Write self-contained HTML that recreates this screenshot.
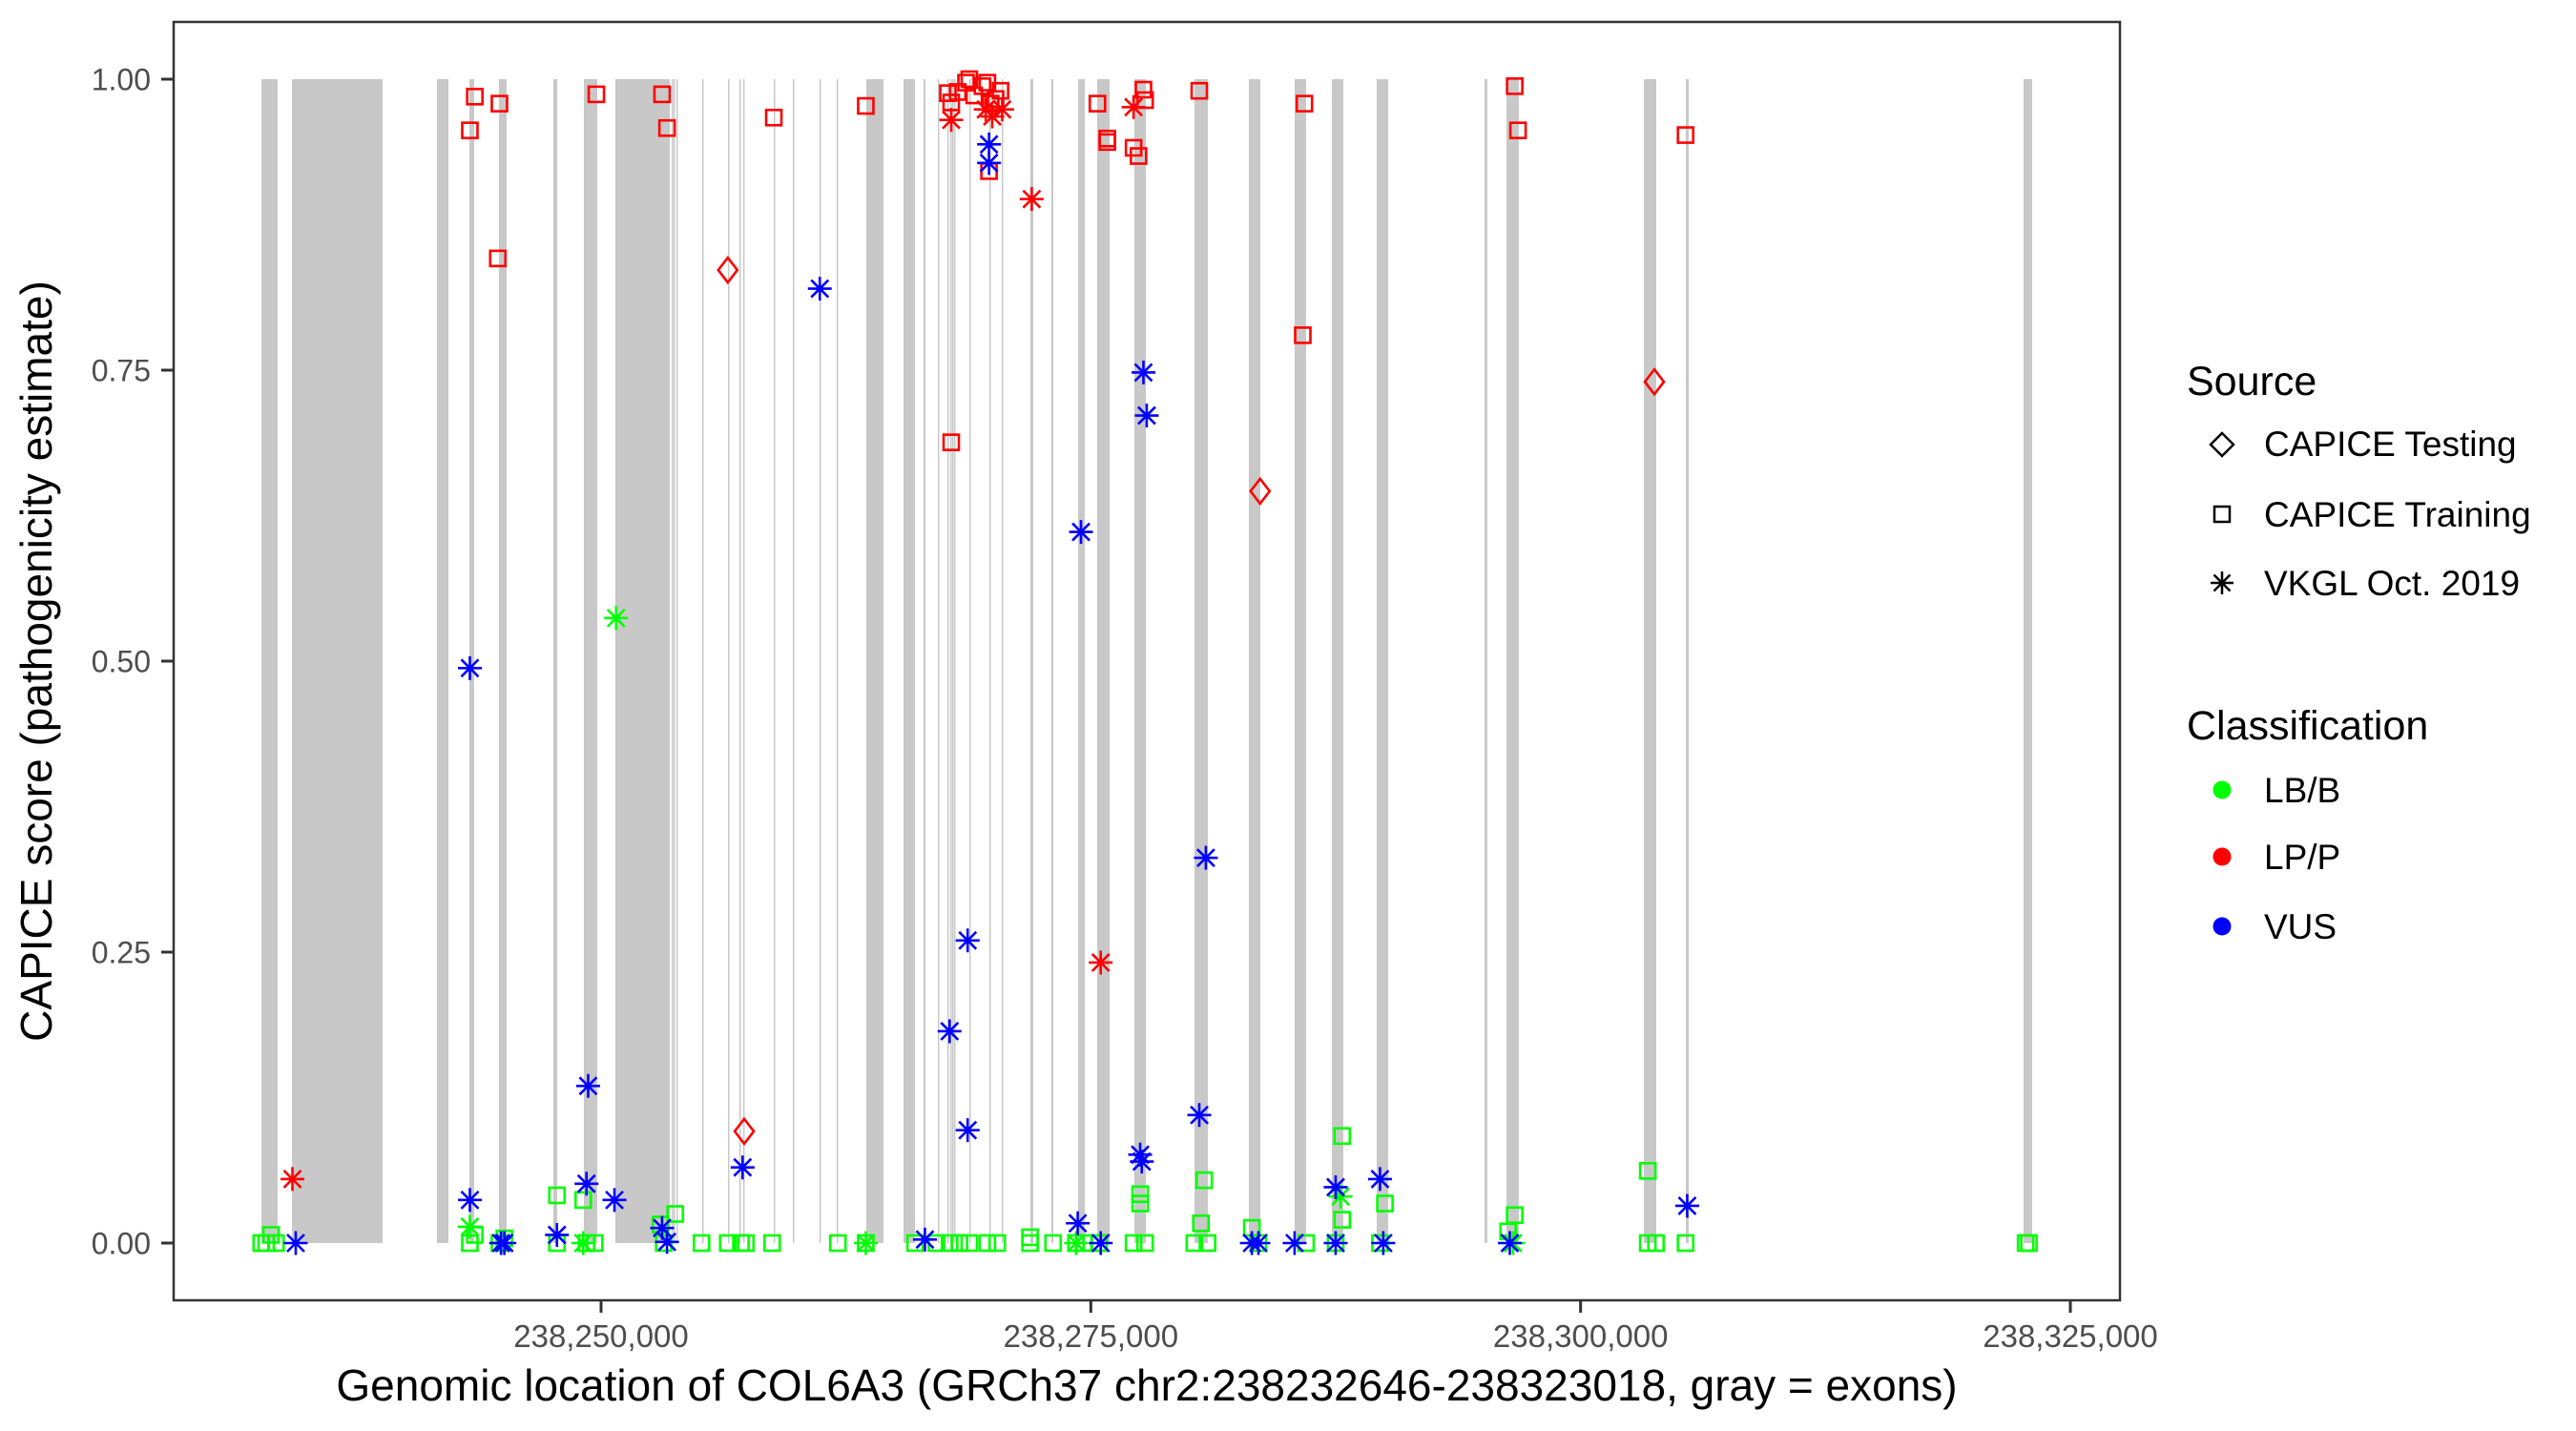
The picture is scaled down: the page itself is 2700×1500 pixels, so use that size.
<!DOCTYPE html>
<html><head><meta charset="utf-8"><style>
html,body{margin:0;padding:0;background:#fff}
svg{display:block}
text{font-family:"Liberation Sans",Arial,sans-serif}
</style></head><body>
<svg id="chart" width="2700" height="1500" viewBox="0 0 2700 1500" xmlns="http://www.w3.org/2000/svg">
<rect x="0" y="0" width="2700" height="1500" fill="#fff"/>
<g id="exons"></g>
<g id="points"></g>
<rect x="182" y="23" width="2040" height="1340" fill="none" stroke="#333" stroke-width="2.5"/>
<g id="yaxis"></g>
<g id="xaxis"></g>
<text x="1202" y="1468" font-size="46" text-anchor="middle" fill="#000">Genomic location of COL6A3 (GRCh37 chr2:238232646-238323018, gray = exons)</text>
<text transform="translate(54,693) rotate(-90)" font-size="46" text-anchor="middle" fill="#000">CAPICE score (pathogenicity estimate)</text>
<g>
<text x="2292" y="414" font-size="43" fill="#000">Source</text>
<g>
<path d="M2329,454 L2341,466 L2329,478 L2317,466 Z" fill="none" stroke="#000" stroke-width="2.5"/>
<text x="2373" y="478" font-size="37" fill="#000">CAPICE Testing</text></g>
<g>
<rect x="2321" y="531" width="16" height="16" fill="none" stroke="#000" stroke-width="2.5"/>
<text x="2373" y="552" font-size="37" fill="#000">CAPICE Training</text></g>
<g>
<path d="M2329,599 V623 M2317,611 H2341 M2320.5,602.5 L2337.5,619.5 M2337.5,602.5 L2320.5,619.5" stroke="#000" stroke-width="2.5"/>
<text x="2373" y="624" font-size="37" fill="#000">VKGL Oct. 2019</text></g>
<text x="2292" y="775" font-size="43" fill="#000">Classification</text>
<g><circle cx="2329" cy="828" r="9.5" fill="#00ff00"/><text x="2373" y="841" font-size="37" fill="#000">LB/B</text></g>
<g><circle cx="2329" cy="898" r="9.5" fill="#ff0000"/><text x="2373" y="911" font-size="37" fill="#000">LP/P</text></g>
<g><circle cx="2329" cy="971" r="9.5" fill="#0000ff"/><text x="2373" y="984" font-size="37" fill="#000">VUS</text></g>
</g>
</svg>
<script>
const exonStart = [238232663,238234221,238241624,238243279,238244789,238247565,238249123,238250731,238253604,238253701,238253847,238255162,238256477,238257062,238257256,238258815,238259789,238261152,238262029,238263539,238265438,238266461,238267191,238267678,238267824,238267922,238268019,238268798,238269821,238270454,238271915,238272986,238274350,238275324,238277223,238280291,238283067,238285405,238287304,238289593,238295096,238296216,238303229,238305372,238322612];
const exonEnd = [238233491,238238848,238242208,238243523,238245179,238247760,238249805,238253506,238253640,238253737,238253883,238255198,238256513,238257098,238257292,238258851,238259825,238261188,238262065,238264415,238266022,238266558,238267227,238267714,238267860,238267958,238268055,238268834,238269857,238270490,238272061,238273084,238274691,238275957,238277808,238280973,238283652,238285989,238287889,238290178,238295242,238296849,238303862,238305518,238323050];
const xTicks = [238250000,238275000,238300000,238325000];
const xTickLabels = ["238,250,000","238,275,000","238,300,000","238,325,000"];
const yTicks = [0,0.25,0.5,0.75,1];
const yTickLabels = ["0.00","0.25","0.50","0.75","1.00"];
const pointPos = [
238232653,238232904,238233156,238233407,238243303,238243555,238244812,238245064,238247748,238247748,238249089,238249257,238249676,238253031,238253198,238253785,238255127,238256469,238257140,238257391,238258733,238262088,238263513,238266029,238267119,238267790,238268293,238268796,238269719,238270222,238271899,238271899,238273073,238274247,238274667,238275421,238277182,238277518,238277518,238277769,238280788,238280621,238280285,238280956,238283220,238283556,238285988,238287497,238287833,238287833,238290013,238289761,238296302,238296638,238303431,238303431,238303850,238305359,238322718,238322886,
238243303,238250767,238249089,238263513,238274247,238287749,238296554,
238243303,238243555,238244812,238249760,238253115,238253366,238258817,238263513,238244729,238267874,238267706,238267874,238268209,238268629,238268796,238269048,238269467,238269719,238269887,238270138,238270390,238269803,238275337,238275841,238275841,238277182,238277434,238277686,238277769,238280537,238285904,238285820,238296638,238296806,238305359,
238256469,238257308,238283640,238303766,
238234246,238267874,238269635,238269970,238270474,238271983,238277182,238275505,
238234414,238243303,238243303,238244896,238245064,238247748,238249257,238249341,238250683,238253115,238253366,238257224,238261165,238266532,238267790,238268713,238268713,238269803,238269803,238274331,238274499,238275505,238277518,238277602,238277686,238277853,238280537,238280872,238283220,238283556,238285401,238287497,238287497,238289761,238289929,238296386,238305443];
const pointScore = [
0,0,0.007,0,0,0.007,0,0.004,0,0.041,0.037,0,0,0.016,0,0.025,0,0,0,0,0,0,0,0,0,0,0,0,0,0,0.005,0,0,0,0,0,0,0.034,0.042,0,0.054,0.017,0,0,0.013,0,0,0,0.092,0.020,0.034,0,0.010,0.024,0.062,0,0,0,0,0,
0.014,0.537,0,0,0,0.040,0,
0.956,0.985,0.979,0.987,0.987,0.958,0.967,0.977,0.846,0.688,0.988,0.980,0.989,0.997,1.000,0.986,0.994,0.997,0.979,0.983,0.990,0.921,0.979,0.949,0.946,0.941,0.934,0.991,0.982,0.990,0.979,0.780,0.994,0.956,0.952,
0.836,0.096,0.646,0.740,
0.055,0.965,0.974,0.968,0.974,0.897,0.976,0.241,
0,0.494,0.037,0,0,0.007,0.051,0.135,0.037,0.013,0.001,0.065,0.82,0.003,0.182,0.26,0.097,0.944,0.928,0.017,0.611,0,0.076,0.070,0.748,0.711,0.110,0.331,0,0,0,0.048,0,0.055,0,0,0.032];
const pointClass = [].concat(Array(60).fill("LB/B"),Array(7).fill("LB/B"),Array(35).fill("LP/P"),Array(4).fill("LP/P"),Array(8).fill("LP/P"),Array(37).fill("VUS"));
const pointSource = [].concat(Array(60).fill("Training"),Array(7).fill("VKGL"),Array(35).fill("Training"),Array(4).fill("Testing"),Array(8).fill("VKGL"),Array(37).fill("VKGL"));

const NS="http://www.w3.org/2000/svg";
const PX0=630, PX1=2170, G0=238250000, G1=238325000;
function xScale(g){return PX0+(g-G0)*(PX1-PX0)/(G1-G0);}
function yScale(s){return 1303-s*(1303-83);}
const colors={"LB/B":"#00ff00","LP/P":"#ff0000","VUS":"#0000ff"};

const exG=document.getElementById("exons");
for(let i=0;i<exonStart.length;i++){
  const x0=xScale(exonStart[i]), x1=xScale(exonEnd[i]);
  const w=Math.max(1.5,x1-x0);
  const r=document.createElementNS(NS,"rect");
  r.setAttribute("x",x0);r.setAttribute("y",yScale(1));
  r.setAttribute("width",w);r.setAttribute("height",yScale(0)-yScale(1));
  r.setAttribute("fill","#c8c8c8");
  
  
  exG.appendChild(r);
}

const yG=document.getElementById("yaxis");
for(let i=0;i<yTicks.length;i++){
  const y=yScale(yTicks[i]);
  const l=document.createElementNS(NS,"line");
  l.setAttribute("x1",169);l.setAttribute("x2",182);l.setAttribute("y1",y);l.setAttribute("y2",y);
  l.setAttribute("stroke","#333");l.setAttribute("stroke-width","3");
  
  
  yG.appendChild(l);
  const t=document.createElementNS(NS,"text");
  t.setAttribute("x",158);t.setAttribute("y",y+11.5);t.setAttribute("text-anchor","end");
  t.setAttribute("font-size","32");t.setAttribute("fill","#4d4d4d");
  t.textContent=yTickLabels[i];
  
  
  yG.appendChild(t);
}
const xG=document.getElementById("xaxis");
for(let i=0;i<xTicks.length;i++){
  const x=xScale(xTicks[i]);
  const l=document.createElementNS(NS,"line");
  l.setAttribute("x1",x);l.setAttribute("x2",x);l.setAttribute("y1",1363);l.setAttribute("y2",1376);
  l.setAttribute("stroke","#333");l.setAttribute("stroke-width","3");
  
  
  xG.appendChild(l);
  const t=document.createElementNS(NS,"text");
  t.setAttribute("x",x);t.setAttribute("y",1412);t.setAttribute("text-anchor","middle");
  t.setAttribute("font-size","33");t.setAttribute("fill","#4d4d4d");
  t.textContent=xTickLabels[i];
  
  
  xG.appendChild(t);
}

const pG=document.getElementById("points");
for(let i=0;i<pointPos.length;i++){
  const cx=xScale(pointPos[i]), cy=yScale(pointScore[i]);
  const c=colors[pointClass[i]];
  let el;
  if(pointSource[i]==="Training"){
    el=document.createElementNS(NS,"rect");
    el.setAttribute("x",cx-8);el.setAttribute("y",cy-8);el.setAttribute("width",16);el.setAttribute("height",16);
    el.setAttribute("fill","none");
  } else if(pointSource[i]==="Testing"){
    el=document.createElementNS(NS,"path");
    el.setAttribute("d",`M${cx},${cy-13} L${cx+10},${cy} L${cx},${cy+13} L${cx-10},${cy} Z`);
    el.setAttribute("fill","none");
  } else {
    el=document.createElementNS(NS,"path");
    const a=12.5,d=9;
    el.setAttribute("d",`M${cx},${cy-a} V${cy+a} M${cx-a},${cy} H${cx+a} M${cx-d},${cy-d} L${cx+d},${cy+d} M${cx+d},${cy-d} L${cx-d},${cy+d}`);
  }
  el.setAttribute("stroke",c);el.setAttribute("stroke-width","2.6");
  
  
  pG.appendChild(el);
}
</script>
</body></html>
